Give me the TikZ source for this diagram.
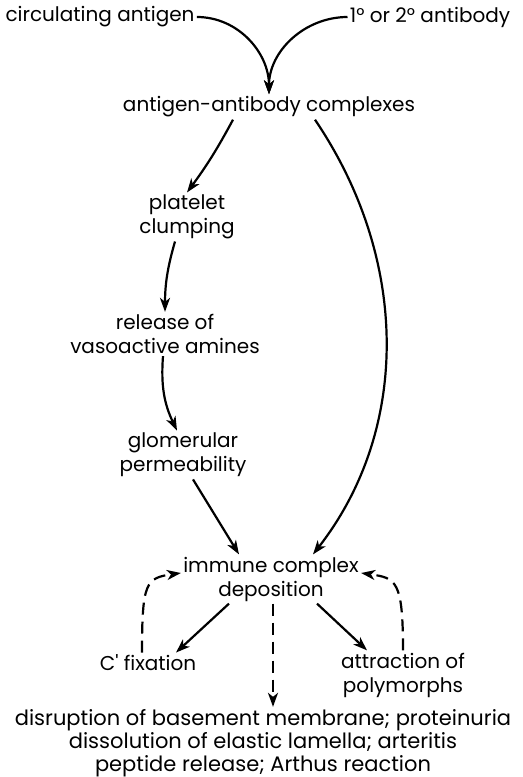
\documentclass[tikz,border=0pt]{standalone}
\usepackage{fontspec}
\setmainfont{Poppins}
\usetikzlibrary{arrows.meta}

\begin{document}
\begin{tikzpicture}[
  x=0.5pt, y=-0.5pt,
  >={Stealth[length=7pt, width=5pt, inset=2pt]},
  term/.style={inner sep=1pt, align=center,
    font=\fontsize{10}{12}\selectfont},
  flow/.style={->, line width=1.1pt},
  feedback/.style={->, line width=1.1pt, dash pattern=on 6pt off 3.5pt}
]
\useasboundingbox (0,0) rectangle (523,777);

% Antigen and antibody
\node[term] (circ) at (100,17) {circulating antigen};
\node[term] (ab) at (430,17) {1° or 2° antibody};
\node[term] (cplx) at (269,107) {antigen-antibody complexes};

% Platelet pathway
\node[term] (plat) at (187,217) {platelet\\clumping};
\node[term] (rel) at (165,334) {release of\\vasoactive amines};
\node[term] (glom) at (183,455) {glomerular\\permeability};

% Deposition and its effects
\node[term] (icd) at (271,579) {immune complex\\deposition};
\node[term] (cfix) at (148,663) {C\textquotesingle\ fixation};
\node[term] (attr) at (403,675) {attraction of\\polymorphs};
\node[term, font=\fontsize{10.5}{11.5}\selectfont] (outc) at (263,743) {disruption of basement membrane; proteinuria\\
  dissolution of elastic lamella; arteritis\\peptide release; Arthus reaction};

% Complex formation
\draw[flow] (circ.east) to[out=0, in=90] (cplx.north);
\draw[flow] (ab.west) to[out=180, in=90] (cplx.north);

% Left chain
\draw[flow] ([xshift=-18pt]cplx.south) to[bend left=4] (plat.north);
\draw[flow] ([xshift=-6pt]plat.south) to[bend right=8] (rel.north);
\draw[flow] ([xshift=-1pt]rel.south) to[bend right=15] ([xshift=-3pt]glom.north);
\draw[flow] ([xshift=5pt]glom.south) -- ([xshift=-16pt]icd.north);

% Direct route
\draw[flow] ([xshift=23pt]cplx.south) .. controls (410,260) and (410,430) .. ([xshift=21pt]icd.north);

% Effects
\draw[flow] ([xshift=-21pt]icd.south) -- ([xshift=14pt]cfix.north);
\draw[flow] ([xshift=23pt]icd.south) -- ([xshift=-18pt]attr.north);
\draw[feedback] ([xshift=1pt]icd.south) -- ([xshift=5pt]outc.north);

% Feedback loops (dashed)
\draw[feedback] ([xshift=-3pt]cfix.north) .. controls +(0,-70) and +(-35,5) .. ([yshift=3pt]icd.west);
\draw[feedback] (attr.north) .. controls +(0,-70) and +(35,5) .. ([yshift=3pt]icd.east);

\end{tikzpicture}
\end{document}
